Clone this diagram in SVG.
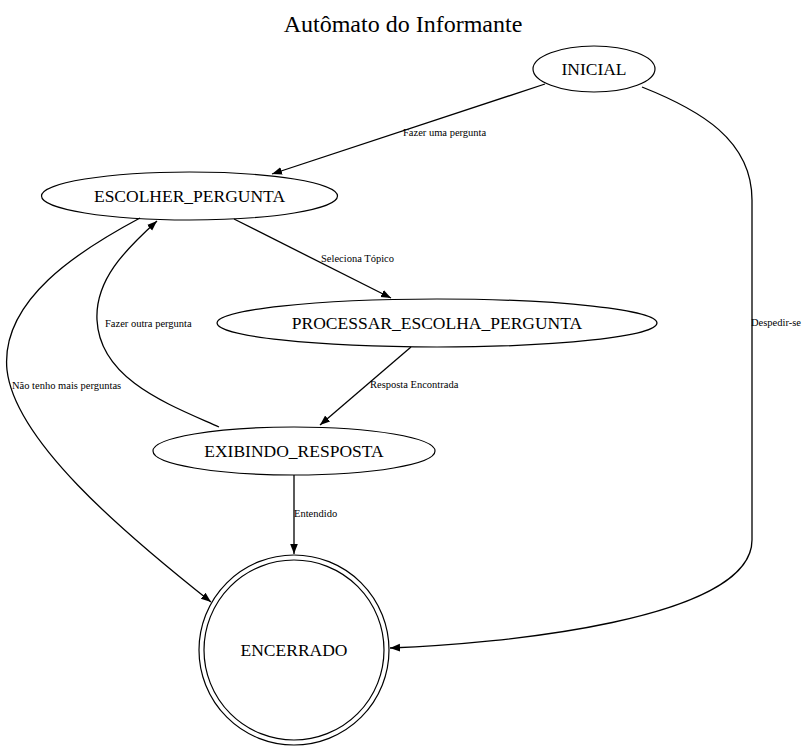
<svg xmlns="http://www.w3.org/2000/svg" width="808" height="750" viewBox="0 0 808 750">
<style>
text { fill: #000; }
.node { fill: none; stroke: #000; stroke-width: 1.2; }
.nl { font-size: 17.5px; text-anchor: middle; }
.el { font-size: 10.5px; }
.edge { fill: none; stroke: #000; stroke-width: 1.3; }
</style>
<defs>
<marker id="arr" viewBox="0 0 10 10" refX="10" refY="5" markerWidth="10" markerHeight="10" markerUnits="userSpaceOnUse" orient="auto">
<path d="M0,1.2 L10,5 L0,8.8 Z" fill="#000"/>
</marker>
</defs>
<rect width="808" height="750" fill="#fff"/>
<g font-family="Liberation Serif, Tinos, DejaVu Serif, serif">
<text x="403" y="32" font-size="24" text-anchor="middle">Autômato do Informante</text>

<g id="connectors">
<g id="e1"><path class="edge" d="M545,84 L272,174" marker-end="url(#arr)"/><text class="el" x="403" y="136">Fazer uma pergunta</text></g>
<g id="e2"><path class="edge" d="M234,219 L391,298" marker-end="url(#arr)"/><text class="el" x="321" y="262">Seleciona Tópico</text></g>
<g id="e3"><path class="edge" d="M411,347 L320,425" marker-end="url(#arr)"/><text class="el" x="370" y="388">Resposta Encontrada</text></g>
<g id="e4"><path class="edge" d="M219,427 C170,405 100,380 97,320 C95,280 125,250 157,221" marker-end="url(#arr)"/><text class="el" x="105" y="327">Fazer outra pergunta</text></g>
<g id="e5"><path class="edge" d="M140,218 C80,250 0,300 7,370 C15,440 120,530 211,602" marker-end="url(#arr)"/><text class="el" x="12" y="389">Não tenho mais perguntas</text></g>
<g id="e6"><path class="edge" d="M294,475 L294,554" marker-end="url(#arr)"/><text class="el" x="294" y="517">Entendido</text></g>
<g id="e7"><path class="edge" d="M642,87 C700,110 752,140 752,200 L752,540 C752,620 500,644 390,648" marker-end="url(#arr)"/><text class="el" x="751" y="326">Despedir-se</text></g>
</g>

<g id="INICIAL"><ellipse class="node" cx="594" cy="69" rx="61" ry="23"/><text class="nl" x="594" y="75">INICIAL</text></g>
<g id="ESCOLHER_PERGUNTA"><ellipse class="node" cx="189.5" cy="196" rx="148" ry="24"/><text class="nl" x="189.5" y="202">ESCOLHER_PERGUNTA</text></g>
<g id="PROCESSAR_ESCOLHA_PERGUNTA"><ellipse class="node" cx="437" cy="323" rx="220" ry="24"/><text class="nl" x="437" y="329">PROCESSAR_ESCOLHA_PERGUNTA</text></g>
<g id="EXIBINDO_RESPOSTA"><ellipse class="node" cx="294" cy="451" rx="141" ry="24"/><text class="nl" x="294" y="457">EXIBINDO_RESPOSTA</text></g>
<g id="ENCERRADO"><circle class="node" cx="294" cy="650" r="95"/><circle class="node" cx="294" cy="650" r="90"/><text class="nl" x="294" y="656">ENCERRADO</text></g>
</g>
</svg>
